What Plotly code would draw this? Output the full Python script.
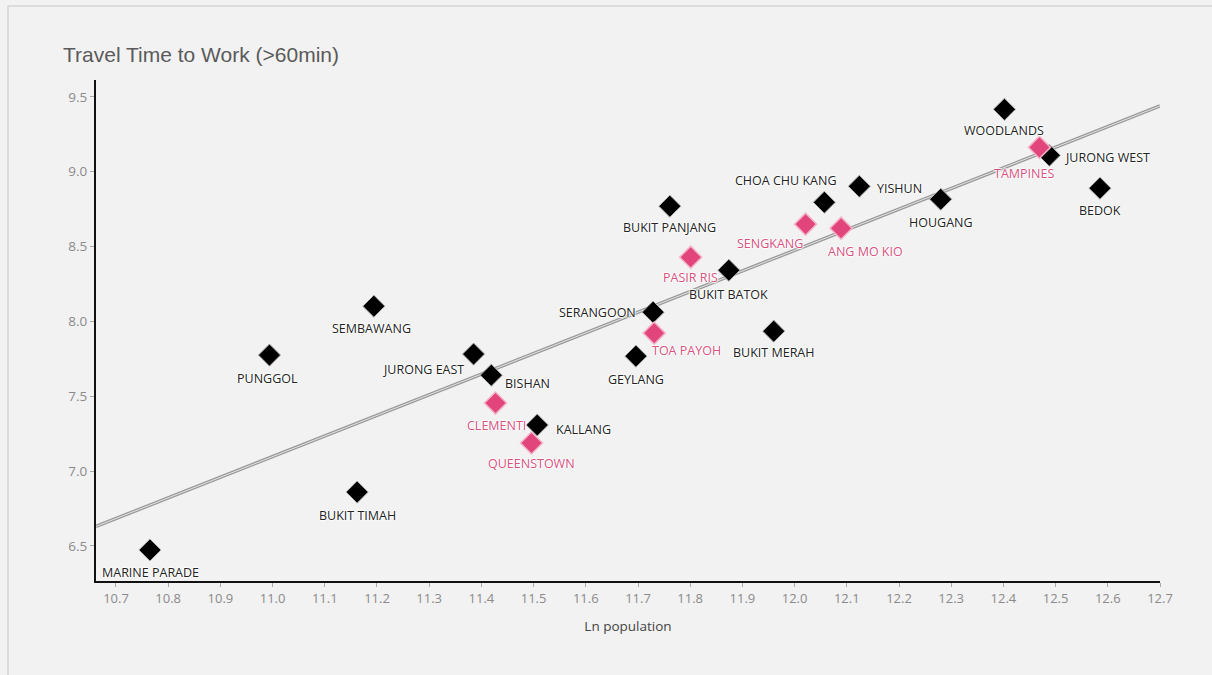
import numpy as np
import plotly.graph_objects as go

# Planning areas: log of population vs travel time to work (>60 min)
black_areas = ["MARINE PARADE", "PUNGGOL", "SEMBAWANG", "BUKIT TIMAH", "JURONG EAST",
               "BISHAN", "KALLANG", "GEYLANG", "SERANGOON", "BUKIT PANJANG",
               "BUKIT BATOK", "BUKIT MERAH", "CHOA CHU KANG", "YISHUN", "HOUGANG",
               "WOODLANDS", "JURONG WEST", "BEDOK"]
black_ln_pop = [10.765, 10.994, 11.194, 11.162, 11.385, 11.419, 11.507, 11.696, 11.729,
                11.761, 11.874, 11.960, 12.057, 12.124, 12.280, 12.402, 12.488, 12.585]
black_travel = [6.473, 7.775, 8.102, 6.860, 7.782, 7.641, 7.308, 7.768, 8.062,
                8.770, 8.342, 7.935, 8.796, 8.903, 8.816, 9.417, 9.110, 8.890]

pink_areas = ["CLEMENTI", "QUEENSTOWN", "TOA PAYOH", "PASIR RIS", "SENGKANG",
              "ANG MO KIO", "TAMPINES"]
pink_ln_pop = [11.427, 11.496, 11.731, 11.801, 12.021, 12.089, 12.469]
pink_travel = [7.455, 7.188, 7.922, 8.429, 8.650, 8.623, 9.163]

x_ticks = [10.7, 10.8, 10.9, 11.0, 11.1, 11.2, 11.3, 11.4, 11.5, 11.6, 11.7,
           11.8, 11.9, 12.0, 12.1, 12.2, 12.3, 12.4, 12.5, 12.6, 12.7]
y_ticks = [6.5, 7.0, 7.5, 8.0, 8.5, 9.0, 9.5]

# Label placement: pixel offset of each label's centre from its marker (right, down)
black_label_offset = [(1, 22), (-2, 23), (-2, 22), (0, 23), (-50, 15),
                      (36, 8), (46, 4), (0, 23), (-56, 0), (0, 21),
                      (0, 24), (0, 21), (-39, -22), (40, 2), (0, 23),
                      (0, 21), (58, 2), (0, 22)]
pink_label_offset = [(1, 22), (0, 21), (32, 17), (0, 20), (-36, 19),
                     (24, 23), (-15, 26)]

X_RANGE = [10.6617, 12.70]
Y_RANGE = [6.266, 9.613]

# Least-squares trend line over all areas
all_x = np.array(black_ln_pop + pink_ln_pop)
all_y = np.array(black_travel + pink_travel)
slope, intercept = np.polyfit(all_x, all_y, 1)
fit_x = np.array(X_RANGE)
fit_y = slope * fit_x + intercept

halo = "1px 0px 1px #fff, -1px 0px 1px #fff, 0px 1px 1px #fff, 0px -1px 1px #fff"

fig = go.Figure()

fig.add_trace(go.Scatter(x=fit_x, y=fit_y, mode="lines",
                         line=dict(color="#9a9a9a", width=3.5),
                         hoverinfo="skip", showlegend=False))
fig.add_trace(go.Scatter(x=fit_x, y=fit_y, mode="lines",
                         line=dict(color="#e4e4e4", width=1),
                         hoverinfo="skip", showlegend=False))

fig.add_trace(go.Scatter(
    x=black_ln_pop, y=black_travel, text=black_areas, mode="markers",
    marker=dict(symbol="diamond", size=17, color="#000000",
                line=dict(color="#b0b0b0", width=1)),
    showlegend=False))

fig.add_trace(go.Scatter(
    x=pink_ln_pop, y=pink_travel, text=pink_areas, mode="markers",
    marker=dict(symbol="diamond", size=17, color="#e2457b",
                line=dict(color="#f3b3c8", width=1.5)),
    showlegend=False))

annotations = []
for names, xs, ys, offs, col in [
        (black_areas, black_ln_pop, black_travel, black_label_offset, "#222222"),
        (pink_areas, pink_ln_pop, pink_travel, pink_label_offset, "#d9517f")]:
    for name, xv, yv, (dx, dy) in zip(names, xs, ys, offs):
        annotations.append(dict(
            x=xv, y=yv, xref="x", yref="y", text=name, showarrow=False,
            xanchor="center", yanchor="middle", xshift=dx, yshift=-dy,
            font=dict(family="Open Sans", size=12.5, color=col, shadow=halo)))

fig.update_layout(
    width=1212, height=675,
    margin=dict(l=96, r=52, t=80, b=94),
    paper_bgcolor="#f2f2f2", plot_bgcolor="#f2f2f2",
    font=dict(family="Liberation Sans", color="#555555"),
    title=dict(text="Travel Time to Work (>60min)",
               font=dict(family="Liberation Sans", size=21, color="#5a5a5a"),
               xref="container", x=63 / 1212, xanchor="left",
               yref="container", y=1 - 55 / 675, yanchor="middle"),
    xaxis=dict(range=X_RANGE, tickvals=x_ticks,
               ticktext=[f"{v:.1f}" for v in x_ticks],
               showgrid=False, zeroline=False,
               showline=True, linecolor="#111111", linewidth=2,
               ticks="outside", ticklen=4, tickcolor="#aaaaaa",
               tickfont=dict(family="Open Sans", size=13, color="#8a8a8a"),
               title=dict(text="Ln population", standoff=16,
                          font=dict(family="Open Sans", size=13.5, color="#444444"))),
    yaxis=dict(range=Y_RANGE, tickvals=y_ticks,
               ticktext=[f"{v:.1f}" for v in y_ticks],
               showgrid=False, zeroline=False,
               showline=True, linecolor="#111111", linewidth=2,
               ticks="outside", ticklen=4, tickcolor="#aaaaaa",
               tickfont=dict(family="Open Sans", size=13.5, color="#8a8a8a")),
    annotations=annotations,
    shapes=[
        dict(type="line", xref="paper", yref="paper",
             x0=-0.0827, x1=1.06, y0=1.1477, y1=1.1477,
             line=dict(color="#dcdcdc", width=2)),
        dict(type="line", xref="paper", yref="paper",
             x0=-0.0827, x1=-0.0827, y0=-0.19, y1=1.1477,
             line=dict(color="#dcdcdc", width=2)),
    ],
)

fig.write_html("out.html")
